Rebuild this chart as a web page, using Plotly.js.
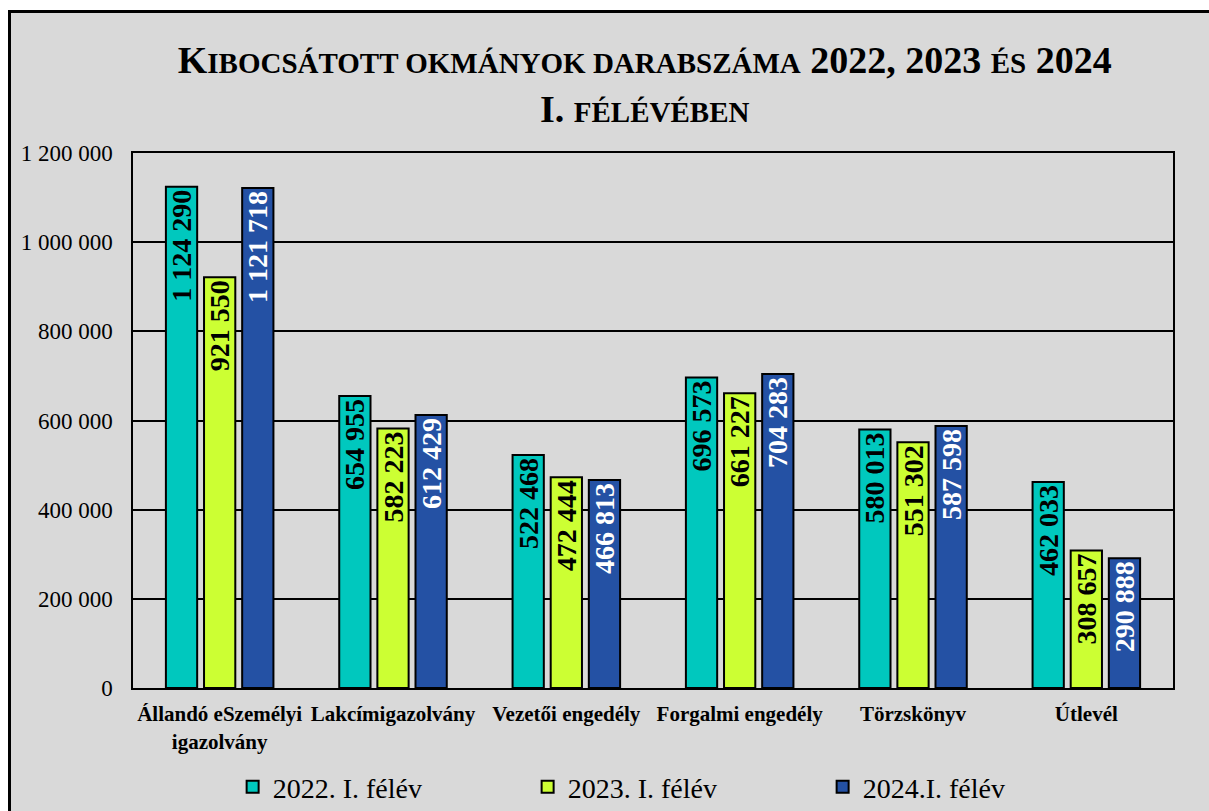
<!DOCTYPE html>
<html>
<head>
<meta charset="utf-8">
<script src="https://cdn.plot.ly/plotly-3.0.1.min.js"></script>
<style>
  html, body { margin: 0; padding: 0; background: #ffffff; width: 1209px; height: 811px; overflow: hidden; }
  #chart { position: absolute; left: 8px; top: 10px; width: 1198px; height: 798px;
           border-left: 3px solid #000; border-top: 3px solid #000; background: #d9d9d9; }
</style>
</head>
<body>
<div id="chart"></div>
<script>
const categories = ["Állandó eSzemélyi<br>igazolvány", "Lakcímigazolvány", "Vezetői engedély", "Forgalmi engedély", "Törzskönyv", "Útlevél"];
const seriesNames = ["2022. I. félév", "2023. I. félév", "2024.I. félév"];
const values2022 = [1124290, 654955, 522468, 696573, 580013, 462033];
const values2023 = [921550, 582223, 472444, 661227, 551302, 308657];
const values2024 = [1121718, 612429, 466813, 704283, 587598, 290888];
const barColors = ["#00c8be", "#ccff33", "#2451a4"];
const labelColors = ["#000000", "#000000", "#ffffff"];
const yTicks = [0, 200000, 400000, 600000, 800000, 1000000, 1200000];

const serif = "'Liberation Serif', 'Times New Roman', serif";
const allValues = [values2022, values2023, values2024];

// small-caps styling of the title (upper-case letters in a smaller size)
const sc = s => '<span style="font-size:29px">' + s + '</span>';
const titleText = "K" + sc("IBOCSÁTOTT OKMÁNYOK DARABSZÁMA") + " 2022, 2023 " + sc("ÉS") + " 2024<br>I. " + sc("FÉLÉVÉBEN");

const traces = allValues.map((vals, i) => ({
  type: "bar",
  name: seriesNames[i],
  x: categories,
  y: vals,
  marker: { color: barColors[i], line: { color: "#000", width: 2 } },
  texttemplate: "%{y:,d}",
  textposition: "inside",
  insidetextanchor: "end",
  textangle: -90,
  constraintext: "none",
  textfont: { family: serif, size: 28, weight: 700, color: labelColors[i] },
  hoverinfo: "x+y+name"
}));

const layout = {
  width: 1198,
  height: 798,
  paper_bgcolor: "#d9d9d9",
  plot_bgcolor: "#d9d9d9",
  separators: ", ",
  margin: { l: 122, r: 36, t: 140, b: 123 },
  title: {
    text: titleText,
    font: { family: serif, size: 38, weight: 700, color: "#000" },
    xref: "container", x: 0.529, xanchor: "center",
    yref: "container", y: 0.925, yanchor: "top"
  },
  barmode: "group",
  bargap: 0.34,
  bargroupgap: 0.18,
  xaxis: {
    tickfont: { family: serif, size: 21, weight: 700, color: "#000" },
    showline: true, linecolor: "#000", linewidth: 2, mirror: true,
    ticks: "", showgrid: false, fixedrange: true, ticklabelstandoff: 6
  },
  yaxis: {
    range: [0, 1200000],
    tickvals: yTicks,
    tickformat: ",d",
    tickfont: { family: serif, size: 23, color: "#000" },
    showgrid: true, gridcolor: "#000", gridwidth: 1.5,
    showline: true, linecolor: "#000", linewidth: 1.5, mirror: true,
    zeroline: false, ticks: "", ticklabelstandoff: 14, fixedrange: true
  },
  legend: {
    orientation: "h",
    xref: "container", x: 0.185, xanchor: "left",
    yref: "container", y: 0.03, yanchor: "middle",
    font: { family: serif, size: 28, color: "#000" },
    entrywidth: 250,
    bgcolor: "rgba(0,0,0,0)"
  },
  showlegend: true
};

Plotly.newPlot("chart", traces, layout, { displayModeBar: false });
</script>
</body>
</html>
